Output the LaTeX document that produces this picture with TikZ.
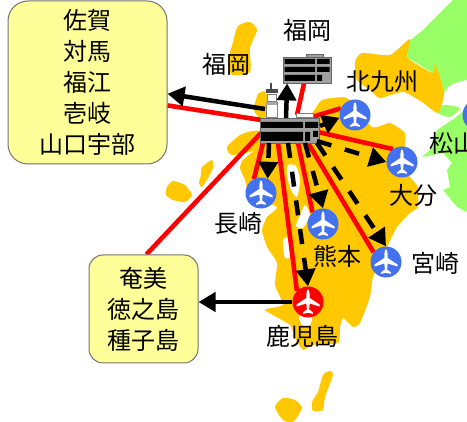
\documentclass[tikz,border=0pt]{standalone}
\usepackage{fontspec}
\setmainfont{Noto Sans CJK JP}
\usetikzlibrary{arrows.meta,backgrounds}
\pgfdeclarelayer{maplayer}
\pgfdeclarelayer{linelayer}
\pgfdeclarelayer{toplayer}
\pgfsetlayers{maplayer,linelayer,main,toplayer}
\definecolor{mapor}{HTML}{FFC800}
\definecolor{mapgr}{HTML}{99FF66}
\definecolor{boxyel}{HTML}{FFFF99}
\definecolor{jetblue}{HTML}{4472EE}
\definecolor{bldg}{HTML}{A0A0A0}
\tikzset{
 lab/.style={font=\fontsize{24}{31}\selectfont,inner sep=0pt,text=black},
 infobox/.style={draw=black!55,line width=1pt,fill=boxyel,align=center,inner sep=0pt,font=\fontsize{24}{31}\selectfont},
 apt/.style={circle,fill=jetblue,minimum size=31pt,inner sep=0pt},
 aptred/.style={apt,fill=red},
 hall/.style={rectangle,draw=black!60,line width=.8pt,fill=bldg,inner sep=0pt},
 redline/.style={red,line width=4.6pt},
 solidarrow/.style={black,line width=4.5pt,-{Triangle[length=17pt,width=19pt]}},
 dasharrow/.style={solidarrow,dash pattern=on 15pt off 14pt},
 land/.style={fill=mapor,draw=none},
 land2/.style={fill=mapgr,draw=none},
 jet/.pic={\fill[white] (0,-12.5) .. controls (1.4,-12) and (1.7,-9) .. (1.7,-4) -- (11.5,2.5) -- (11.5,4.5) -- (1.7,1.5) -- (1.1,7.5) -- (4.8,10.3) -- (4.8,11.8) -- (0,10.8) -- (-4.8,11.8) -- (-4.8,10.3) -- (-1.1,7.5) -- (-1.7,1.5) -- (-11.5,4.5) -- (-11.5,2.5) -- (-1.7,-4) .. controls (-1.7,-9) and (-1.4,-12) .. (0,-12.5) -- cycle;}
}
\begin{document}
\begin{tikzpicture}[x=1pt,y=-1pt]
\path[use as bounding box,clip] (0,0) rectangle (467,422);
% boxes
\node[infobox,rounded corners=20pt,minimum width=159pt,minimum height=163pt] (box1) at (87.5,82.5) {佐賀\\対馬\\福江\\壱岐\\山口宇部};
\node[infobox,rounded corners=14pt,minimum width=109pt,minimum height=108pt] (box2) at (143.5,309) {奄美\\徳之島\\種子島};
% airports
\node[apt] (kita) at (355,115) {};
\node[apt] (oita) at (402,162) {};
\node[apt] (naga) at (261,193) {};
\node[apt] (kuma) at (323,224) {};
\node[apt] (miya) at (386,262) {};
\node[aptred] (kago) at (308,302) {};
\node[apt] (matsu) at (478,115) {};
\foreach \n in {kita,oita,naga,kuma,miya,kago} {\pic at (\n) {jet};}
% buildings
\node[hall,minimum width=48pt,minimum height=26pt] (fbld) at (307,70) {};
\node[hall,minimum width=59pt,minimum height=25pt] (hub) at (289.5,130.5) {};
\fill[black] (284.5,59) rectangle (315,64) (284.5,67) rectangle (315,72) (284.5,75) rectangle (315,81);
\fill[black] (317,59) rectangle (329.5,64) (317,67) rectangle (329.5,72) (317,75) rectangle (322,81);
\fill[bldg,draw=black!60,line width=.6pt] (306,54) rectangle (323,57);
\fill[black] (261,122) rectangle (303,128) (261,132) rectangle (303,141);
\fill[black] (305,122) rectangle (318,128) (305,132) rectangle (310,141) (313,131) rectangle (318,137);
\fill[white,draw=black!50,line width=.6pt] (296,113.5) rectangle (313,117.5);
\fill[white,draw=black!50,line width=.6pt] (266,102) rectangle (277,117.5);
\fill[black!35] (266,102) rectangle (277,105);
\fill[black!70] (265.5,89) rectangle (277.5,93.5);
\fill[white,draw=black!50,line width=.5pt] (267,94) rectangle (276,101);
\draw[black!70,line width=1.2pt] (271,83) -- (271,89);
% labels
\node[lab] (l1) at (307,30) {福岡};
\node[lab] (l2) at (226,64) {福岡};
\node[lab] (l3) at (382,82) {北九州};
\node[lab,anchor=west] (l4) at (429,143) {松山};
\node[lab] (l5) at (413,195) {大分};
\node[lab] (l6) at (238.5,223) {長崎};
\node[lab] (l7) at (337,256) {熊本};
\node[lab] (l8) at (435,263) {宮崎};
\node[lab] (l9) at (302,336) {鹿児島};
% hub ports
\coordinate (r1) at (261,120);
\coordinate (r2) at (261,133);
\coordinate (r3) at (297,115);
\coordinate (r4) at (312,117);
\coordinate (r5) at (318,132);
\coordinate (r6) at (263,143);
\coordinate (r7) at (278,143);
\coordinate (r8) at (298,143);
\coordinate (r9) at (308,143);
\coordinate (b1) at (265,109);
\coordinate (b2) at (286,118);
\coordinate (b3) at (320,126);
\coordinate (b4) at (317,141);
\coordinate (b5) at (269,143);
\coordinate (b6) at (288,143);
\coordinate (b7) at (305,143);
\coordinate (b8) at (317,143);
\begin{pgfonlayer}{maplayer}
% green
\fill[land2] (467,0) -- (453,0) -- (423,30) -- (408,42) -- (408,58) -- (433,73) -- (444,93) -- (450,85) -- (458,82) -- (467,80) -- cycle;
\fill[land2] plot[smooth cycle,tension=.4] coordinates {(438,113) (443,105) (460,108) (450,117)};
\fill[land2] (422,157) -- (433,147) -- (437,130) -- (455,118) -- (467,108) -- (467,212) -- (457,207) -- (443,190) -- (450,187) -- (447,170) -- (452,163) -- (443,153) -- cycle;
% orange
\fill[land] plot[smooth cycle,tension=.35] coordinates {(355,62) (362,53) (390,55) (410,39) (408,58) (433,73) (435,63) (444,93) (438,113) (422,102) (403,92) (380,98) (370,90) (357,80)};
\fill[land] plot[smooth cycle,tension=.4] coordinates {(238,26) (250,22) (257,30) (250,48) (250,72) (232,75) (228,62) (233,42)};
\fill[land] plot[smooth cycle,tension=.4] coordinates {(254,110) (258,94) (266,92) (268,112) (262,120)};
\fill[land] plot[smooth cycle,tension=.4] coordinates {(227,147) (240,135) (253,131) (270,132) (255,150) (232,155)};
\fill[land] plot[smooth cycle,tension=.3] coordinates {(262,145) (290,135) (313,112) (322,100) (347,98) (372,127) (390,123) (405,133) (405,145) (404,160) (410,177) (418,187) (418,207) (410,213) (397,227) (387,247) (373,277) (370,297) (360,323) (353,327) (343,318) (340,327) (338,343) (313,345) (303,350) (295,338) (290,325) (265,310) (283,305) (275,285) (277,263) (267,247) (262,230) (267,217) (277,207) (250,195) (245,180) (240,168) (243,160)};
\fill[land] plot[smooth cycle,tension=.4] coordinates {(202,167) (212,160) (213,168) (208,178) (202,187) (199,183) (201,175)};
\fill[land] plot[smooth cycle,tension=.4] coordinates {(167,187) (173,181) (185,185) (192,195) (185,202) (173,200) (166,195)};
\fill[land] plot[smooth cycle,tension=.4] coordinates {(275,407) (283,398) (295,400) (302,408) (293,422) (283,420)};
\fill[land] plot[smooth cycle,tension=.4] coordinates {(330,371) (333,375) (325,397) (323,410) (313,411) (312,402) (318,392) (323,375)};
\fill[white] plot[smooth cycle,tension=.4] coordinates {(288,165) (296,166) (300,180) (297,197) (291,190) (287,175)};
\fill[white] plot[smooth cycle,tension=.4] coordinates {(305,205) (310,215) (303,228) (296,226) (300,215)};
\fill[white] plot[smooth cycle,tension=.4] coordinates {(283,240) (290,238) (294,255) (285,258)};
\fill[white] plot[smooth cycle,tension=.4] coordinates {(299,315) (312,315) (310,325) (302,325)};
\end{pgfonlayer}
\begin{pgfonlayer}{linelayer}
\draw[redline] (r1) -- (box1.-16);
\draw[redline] (r2) -- (box2.87);
\draw[redline] (r3) -- (fbld);
\draw[redline] (r4) -- (kita.155);
\draw[redline] (r5) -- (oita.125);
\draw[redline] (r6) -- (naga.117);
\draw[redline] (r7) -- (kago.135);
\draw[redline] (r8) -- (kuma.132);
\draw[redline] (r9) -- (miya.142);
\end{pgfonlayer}
\begin{pgfonlayer}{toplayer}
\draw[solidarrow] (b1) -- (box1.-8);
\draw[solidarrow] (b2) -- (fbld.214);
\draw[solidarrow] (kago.west) -- (kago.west -| box2.east);
\draw[dasharrow] (b3) -- (kita.190);
\draw[dasharrow] (b4) -- (oita.west);
\draw[dasharrow] (b5) -- (naga.65);
\draw[dasharrow] (b6) -- (kago.north);
\draw[dasharrow] (b7) -- (kuma.north);
\draw[dasharrow] (b8) -- (miya.north);
\end{pgfonlayer}
\end{tikzpicture}
\end{document}
